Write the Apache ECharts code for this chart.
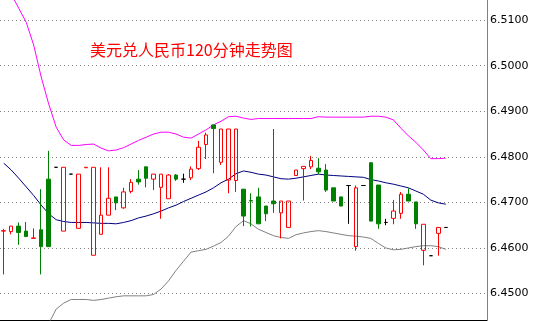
<!DOCTYPE html>
<html>
<head>
<meta charset="utf-8">
<script src="https://cdn.jsdelivr.net/npm/echarts@6/dist/echarts.min.js"></script>
<style>
html,body{margin:0;padding:0;background:#fff;}
#chart{width:535px;height:321px;}
</style>
</head>
<body>
<div id="chart"></div>
<script>
const titleText = '美元兑人民币120分钟走势图';
const slotCount = 65; // 60 candles + 5 empty slots on the right
const categories = Array.from({length: slotCount}, (_, i) => String(i + 1));

const opens = [6.4637,6.4636,6.4648,6.4637,6.4621,6.4640,6.4751,6.4777,6.4637,6.4762,
  6.4643,6.4776,6.4584,6.4630,6.4672,6.4712,6.4688,6.4724,6.4751,6.4778,
  6.4751,6.4733,6.4708,6.4760,6.4751,6.4754,6.4774,6.4827,6.4870,6.4788,
  6.4749,6.4748,6.4729,6.4704,6.4712,6.4692,6.4703,6.4677,6.4645,6.4759,
  6.4774,6.4778,6.4775,6.4771,6.4732,6.4712,6.4737,6.4603,6.4737,6.4787,
  6.4738,6.4656,6.4665,6.4676,6.4718,6.4701,6.4595,6.4583,6.4632,6.4645];
const closes = [6.4638,6.4648,6.4634,6.4625,6.4622,6.4603,6.4603,6.4777,6.4777,6.4762,
  6.4762,6.4777,6.4777,6.4672,6.4709,6.4699,6.4723,6.4744,6.4745,6.4753,
  6.4762,6.4762,6.4760,6.4751,6.4751,6.4773,6.4821,6.4848,6.4862,6.4861,
  6.4861,6.4861,6.4670,6.4703,6.4653,6.4675,6.4697,6.4703,6.4703,6.4771,
  6.4779,6.4792,6.4767,6.4727,6.4703,6.4692,6.4737,6.4732,6.4737,6.4659,
  6.4653,6.4656,6.4681,6.4718,6.4703,6.4653,6.4652,6.4583,6.4645,6.4645];
const highs = [6.4642,6.4648,6.4656,6.4657,6.4643,6.4729,6.4813,6.4777,6.4777,6.4762,
  6.4762,6.4777,6.4777,6.4777,6.4777,6.4712,6.4732,6.4751,6.4771,6.4778,
  6.4762,6.4762,6.4762,6.4762,6.4763,6.4779,6.4835,6.4853,6.4870,6.4861,
  6.4861,6.4861,6.4729,6.4720,6.4732,6.4692,6.4861,6.4703,6.4703,6.4771,
  6.4779,6.4802,6.4797,6.4784,6.4732,6.4712,6.4737,6.4737,6.4737,6.4787,
  6.4738,6.4664,6.4705,6.4723,6.4731,6.4701,6.4652,6.4583,6.4645,6.4645];
const lows = [6.4542,6.4630,6.4607,6.4625,6.4621,6.4542,6.4603,6.4777,6.4637,6.4762,
  6.4643,6.4776,6.4584,6.4630,6.4672,6.4683,6.4686,6.4720,6.4739,6.4733,
  6.4727,6.4664,6.4708,6.4747,6.4743,6.4749,6.4771,6.4795,6.4764,6.4782,
  6.4720,6.4723,6.4648,6.4647,6.4653,6.4659,6.4677,6.4621,6.4645,6.4759,
  6.4704,6.4773,6.4762,6.4723,6.4703,6.4692,6.4653,6.4594,6.4737,6.4659,
  6.4642,6.4650,6.4652,6.4664,6.4703,6.4642,6.4562,6.4583,6.4583,6.4645];

const bollUpper = [6.5188,6.5157,6.5126,6.5095,6.5045,6.4975,6.4916,6.4865,6.4837,6.4825,
  6.4825,6.4827,6.4828,6.4819,6.4813,6.4815,6.4820,6.4828,6.4836,6.4843,
  6.4850,6.4854,6.4854,6.4850,6.4843,6.4841,6.4850,6.4859,6.4870,6.4878,
  6.4888,6.4889,6.4885,6.4882,6.4884,6.4884,6.4884,6.4884,6.4884,6.4884,
  6.4884,6.4884,6.4888,6.4887,6.4887,6.4887,6.4887,6.4887,6.4887,6.4889,
  6.4889,6.4887,6.4881,6.4863,6.4846,6.4832,6.4815,6.4796,6.4796,6.4797];
const bollMid = [6.4786,6.4771,6.4753,6.4734,6.4715,6.4694,6.4675,6.4662,6.4658,6.4656,
  6.4656,6.4656,6.4655,6.4654,6.4654,6.4653,6.4656,6.4660,6.4666,6.4670,
  6.4675,6.4681,6.4688,6.4694,6.4702,6.4709,6.4716,6.4723,6.4732,6.4743,
  6.4751,6.4763,6.4769,6.4766,6.4762,6.4760,6.4756,6.4752,6.4751,6.4753,
  6.4756,6.4759,6.4762,6.4760,6.4759,6.4758,6.4757,6.4756,6.4755,6.4750,
  6.4747,6.4743,6.4740,6.4736,6.4732,6.4725,6.4718,6.4705,6.4699,6.4696];
const bollLower = [6.4384,6.4385,6.4380,6.4373,6.4385,6.4413,6.4434,6.4466,6.4479,6.4487,
  6.4487,6.4487,6.4485,6.4487,6.4490,6.4493,6.4495,6.4495,6.4495,6.4495,
  6.4498,6.4510,6.4528,6.4551,6.4571,6.4591,6.4594,6.4597,6.4604,6.4612,
  6.4626,6.4647,6.4660,6.4653,6.4641,6.4634,6.4627,6.4623,6.4621,6.4629,
  6.4633,6.4636,6.4638,6.4636,6.4633,6.4630,6.4627,6.4626,6.4624,6.4621,
  6.4610,6.4600,6.4596,6.4597,6.4600,6.4603,6.4605,6.4605,6.4603,6.4597];

const yMin = 6.4442;
const yMax = 6.5144;

const candleData = opens.map((o, i) => {
  const item = { value: [o, closes[i], lows[i], highs[i]] };
  if (o === closes[i]) {
    item.itemStyle = { borderColor: '#000000', borderColor0: '#000000', borderColorDoji: '#000000', color: '#000000', color0: '#000000' };
  }
  return item;
});

const chart = echarts.init(document.getElementById('chart'), null, { renderer: 'canvas' });
chart.setOption({
  animation: false,
  backgroundColor: '#ffffff',
  title: {
    text: titleText,
    left: 90,
    top: 42,
    padding: 0,
    textStyle: { color: '#ff0000', fontSize: 16, fontWeight: 'normal', fontFamily: 'Noto Sans CJK SC' }
  },
  grid: { left: 0, right: 48, top: 0, bottom: 1, containLabel: false },
  xAxis: {
    type: 'category',
    data: categories,
    boundaryGap: true,
    axisLine: { show: true, onZero: false, lineStyle: { color: '#000000', width: 1 } },
    axisTick: { show: false },
    axisLabel: { show: false },
    splitLine: { show: false }
  },
  yAxis: {
    type: 'value',
    position: 'right',
    min: yMin,
    max: yMax,
    splitNumber: 7,
    axisLine: { show: true, lineStyle: { color: '#808080', width: 1 } },
    axisTick: { show: false },
    axisLabel: {
      show: true,
      showMinLabel: false,
      showMaxLabel: false,
      margin: 3,
      color: '#000000',
      fontSize: 11,
      fontFamily: 'DejaVu Sans',
      padding: [5, 0, 0, 0],
      formatter: v => v.toFixed(4)
    },
    splitLine: {
      show: true,
      showMinLine: false,
      showMaxLine: false,
      lineStyle: { color: '#808080', width: 1, type: [1, 3] }
    }
  },
  series: [
    { type: 'line', data: bollUpper, symbol: 'none', silent: true, lineStyle: { color: '#ff00ff', width: 1 }, itemStyle: { color: '#ff00ff' }, z: 1 },
    { type: 'line', data: bollMid, symbol: 'none', silent: true, lineStyle: { color: '#000080', width: 1 }, itemStyle: { color: '#000080' }, z: 1 },
    { type: 'line', data: bollLower, symbol: 'none', silent: true, lineStyle: { color: '#808080', width: 1 }, itemStyle: { color: '#808080' }, z: 1 },
    {
      type: 'candlestick',
      data: candleData,
      barWidth: 4,
      z: 2,
      itemStyle: {
        color: 'transparent',
        color0: '#008000',
        borderColor: '#ff0000',
        borderColor0: '#008000',
        borderColorDoji: '#000000',
        borderWidth: 1
      }
    }
  ]
});
</script>
</body>
</html>
